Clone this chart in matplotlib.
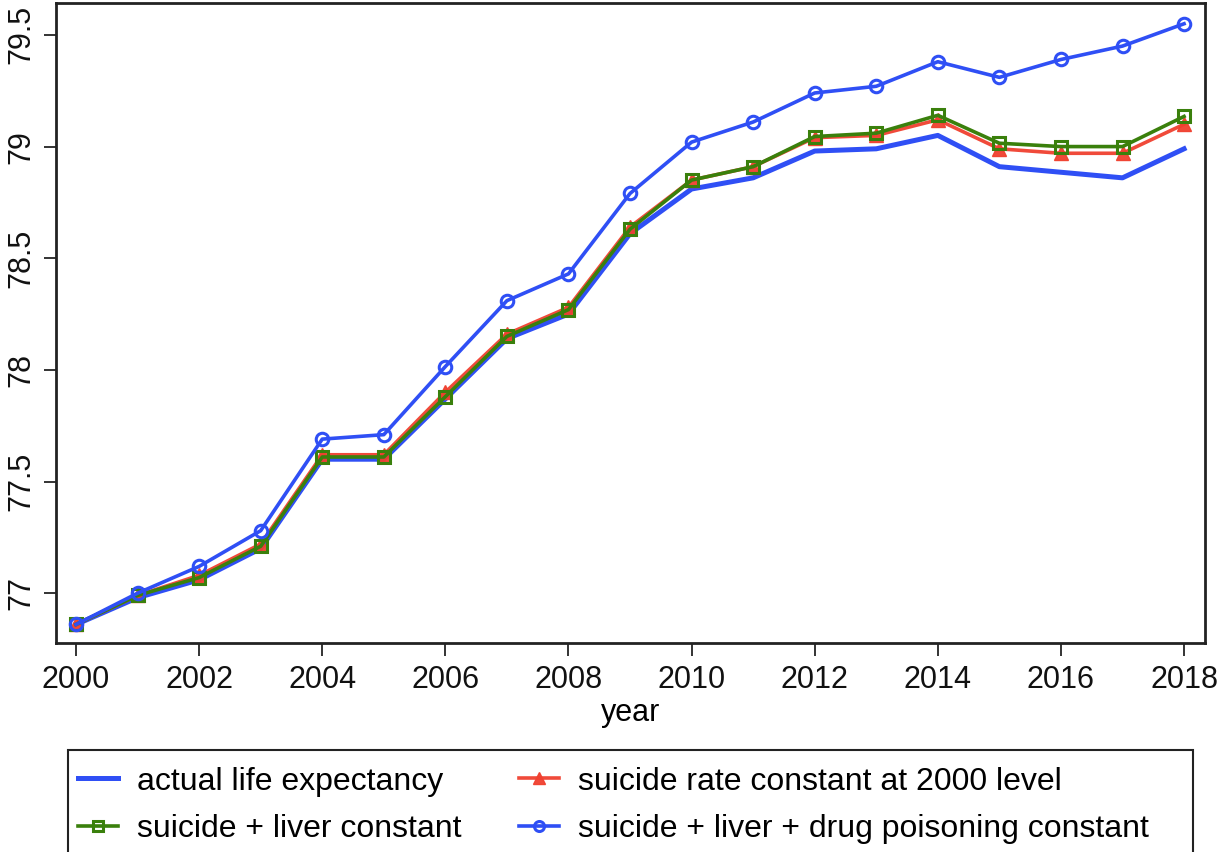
import matplotlib
matplotlib.use("Agg")
import matplotlib.pyplot as plt
from matplotlib.patches import Rectangle

years = list(range(2000, 2019))
actual = [76.86, 76.98, 77.06, 77.20, 77.60, 77.60, 77.87, 78.14, 78.25, 78.61,
          78.81, 78.86, 78.98, 78.99, 79.05, 78.91, 78.885, 78.86, 78.99]
suicide_const = [76.86, 76.99, 77.08, 77.22, 77.62, 77.62, 77.90, 78.16, 78.28, 78.64,
                 78.85, 78.91, 79.04, 79.05, 79.12, 78.99, 78.97, 78.97, 79.10]
suicide_liver = [76.86, 76.99, 77.07, 77.21, 77.61, 77.61, 77.88, 78.15, 78.27, 78.63,
                 78.85, 78.91, 79.045, 79.06, 79.14, 79.015, 79.00, 79.00, 79.135]
suicide_liver_drug = [76.86, 77.00, 77.12, 77.28, 77.69, 77.71, 78.015, 78.31, 78.43, 78.79,
                      79.02, 79.11, 79.24, 79.27, 79.38, 79.31, 79.39, 79.45, 79.55]

labels = ["actual life expectancy", "suicide rate constant at 2000 level",
          "suicide + liver constant", "suicide + liver + drug poisoning constant"]
xticks = list(range(2000, 2019, 2))
yticks = [77, 77.5, 78, 78.5, 79, 79.5]
yticklabels = ["77", "77.5", "78", "78.5", "79", "79.5"]

plt.rcParams['font.family'] = ['Liberation Sans', 'DejaVu Sans']

blue = '#2f4ff5'
red = '#f0402f'
green = '#3a800c'

fig = plt.figure(figsize=(12.2, 8.52), dpi=100)
ax = fig.add_axes([0.0459, 0.2453, 0.9418, 0.7512])

l1, = ax.plot(years, actual, color=blue, lw=3.6, solid_joinstyle='round')
l2, = ax.plot(years, suicide_const, color=red, lw=2.6, marker='^', markersize=10,
              markerfacecolor=red, markeredgecolor=red, alpha=0.95)
l3, = ax.plot(years, suicide_liver, color=green, lw=2.6, marker='s', markersize=9,
              markerfacecolor='none', markeredgecolor=green, markeredgewidth=2.2)
l4, = ax.plot(years, suicide_liver_drug, color=blue, lw=2.6, marker='o', markersize=9,
              markerfacecolor='none', markeredgecolor=blue, markeredgewidth=2.2)

ax.set_xlim(1999.675, 2018.34)
ax.set_ylim(76.777, 79.643)
ax.set_xticks(xticks)
ax.set_yticks(yticks)
ax.set_yticklabels(yticklabels, rotation=90, va='center')
ax.tick_params(axis='both', direction='out', length=9, width=1.2, labelsize=22, colors='#111111')
ax.tick_params(axis='y', pad=5)
ax.tick_params(axis='x', pad=7)
for s in ax.spines.values():
    s.set_linewidth(2.0)
    s.set_color('#222222')
ax.set_xlabel("year", fontsize=22, labelpad=2)

# legend frame drawn separately in figure pixels
frame = Rectangle((68/1220, 1-856/852), (1193-68)/1220, (856-750)/852,
                  transform=fig.transFigure, fill=False, edgecolor='#222222',
                  linewidth=1.5, clip_on=False)
fig.patches.append(frame)

leg = fig.legend([l1, l3, l2, l4],
                 [labels[0], labels[2], labels[1], labels[3]],
                 ncol=2, loc='upper left',
                 bbox_to_anchor=(68/1220, 1-757/852),
                 fontsize=23, frameon=False, borderaxespad=0,
                 handlelength=1.25, handletextpad=0.6, columnspacing=1.8,
                 labelspacing=0.54, borderpad=0.3, markerscale=0.8)

fig.savefig("out.png", dpi=100)
